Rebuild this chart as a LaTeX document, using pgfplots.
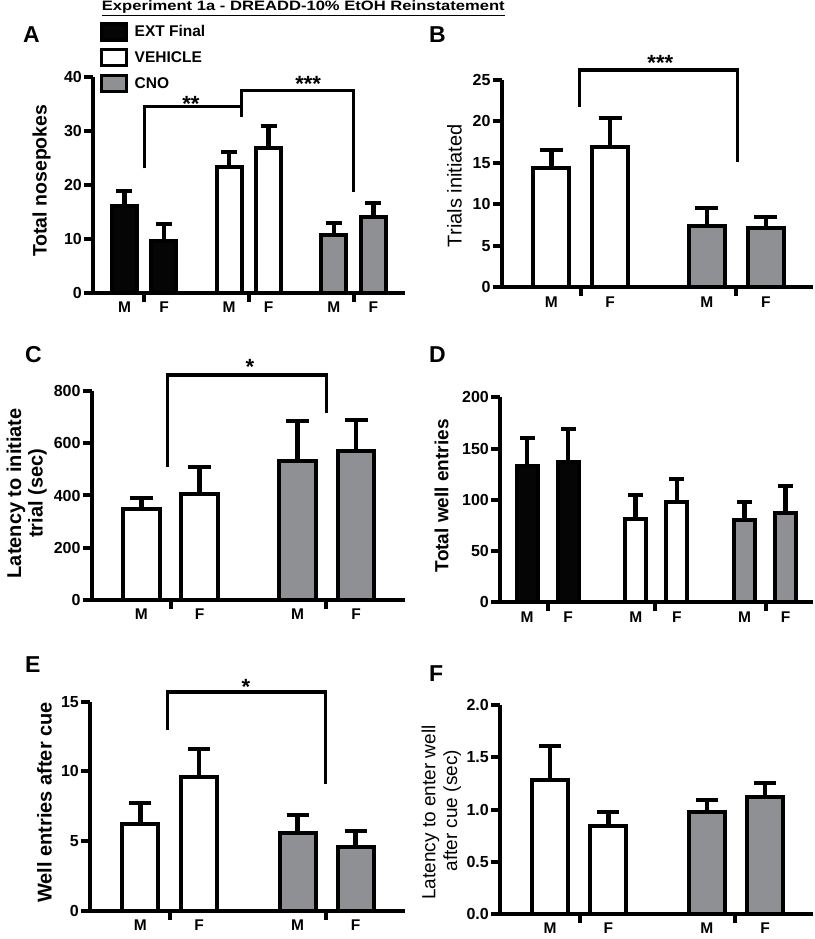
\documentclass[border=0pt]{standalone}
\usepackage{pgfplots}
\pgfplotsset{compat=1.18}
\usepackage{fontspec}
\setmainfont{Liberation Sans}
\newfontfamily\titlefont{Liberation Sans}[FakeStretch=1.22]
\definecolor{cno}{RGB}{143,144,148}
\definecolor{ext}{RGB}{5,5,5}
\newcommand{\tickfont}{\bfseries\fontsize{16}{16}\selectfont}
\newcommand{\starfont}{\bfseries\fontsize{22}{22}\selectfont}
\pgfplotsset{
  panel/.style={
    scale only axis,
    axis x line*=bottom, axis y line*=left,
    axis line style={line width=4pt, black},
    tick align=outside,
    major tick length=9pt,
    ytick style={line width=4pt, black},
    xtick style={draw=none},
    ymin=0,
    clip=false,
    /pgf/number format/assume math mode=true,
    tick label style={font=\tickfont},
    yticklabel style={inner sep=0pt, xshift=-2pt},
    xticklabel style={inner sep=0pt, font=\bfseries\fontsize{15.5}{15.5}\selectfont},
    extra x tick style={xtick style={draw=black, line width=4pt}},
    extra x tick labels={},
  },
  bk/.style={black, line width=3.4pt, line join=miter, forget plot},
  every error bar/.append style={line width=4.6pt, black},
}
\begin{document}
\begin{tikzpicture}
\path[use as bounding box] (0,0) rectangle (814pt,939pt);

% title
\node[anchor=base west, font=\titlefont\bfseries\fontsize{13.6}{13.6}\selectfont, inner sep=0pt] at (101.7pt,928.5pt) {\underline{Experiment 1a - DREADD-10\% EtOH Reinstatement}};

% panel letters
\begin{scope}[every node/.style={anchor=base west, inner sep=0pt, font=\bfseries\fontsize{23}{23}\selectfont}]
\node at (23pt,896pt) {A};
\node at (429pt,896pt) {B};
\node at (25pt,576.3pt) {C};
\node at (429pt,576.3pt) {D};
\node at (25pt,266.3pt) {E};
\node at (429pt,257.3pt) {F};
\end{scope}

% y labels
\node[rotate=90, anchor=base, inner sep=0pt, font=\bfseries\fontsize{19.5}{19.5}\selectfont] at (46.7pt,758.2pt) {Total nosepokes};
\node[rotate=90, anchor=base, inner sep=0pt, font=\fontsize{20}{20}\selectfont] at (461.7pt,753.2pt) {Trials initiated};
\node[rotate=90, anchor=base, inner sep=0pt, font=\bfseries\fontsize{20}{20}\selectfont] at (21pt,445.7pt) {Latency to initiate};
\node[rotate=90, anchor=base, inner sep=0pt, font=\bfseries\fontsize{20}{20}\selectfont] at (42.5pt,445.7pt) {trial (sec)};
\node[rotate=90, anchor=base, inner sep=0pt, font=\bfseries\fontsize{19}{19}\selectfont] at (448.3pt,443.2pt) {Total well entries};
\node[rotate=90, anchor=base, inner sep=0pt, font=\bfseries\fontsize{20}{20}\selectfont] at (51.7pt,136.5pt) {Well entries after cue};
\node[rotate=90, anchor=base, inner sep=0pt, font=\fontsize{19}{19}\selectfont] at (435.3pt,126.5pt) {Latency to enter well};
\node[rotate=90, anchor=base, inner sep=0pt, font=\fontsize{19}{19}\selectfont] at (457.2pt,128.2pt) {after cue (sec)};

% ---------------- A
\begin{axis}[panel, at={(93pt,646pt)}, anchor=south west, width=312pt, height=215.7pt,
  xmin=-0.797, xmax=7.10, ymax=40, ytick={0,10,20,30,40},
  xtick={0,1,2.65,3.65,5.3,6.3}, xticklabels={M,F,M,F,M,F}, extra x ticks={0.5,3.15,5.8},
  legend style={at={(axis description cs:0.022,1.255)}, anchor=north west, draw=none, fill=none,
    font=\bfseries\fontsize{15.5}{15.5}\selectfont, row sep=6.5pt, inner sep=0pt,
    nodes={inner sep=1pt}},
  legend cell align=left,
  legend image code/.code={\draw[line width=3.2pt] (0pt,-8pt) rectangle (24.5pt,8pt); \path[draw=none, fill=none] (0pt,0pt) -- (32pt,0pt);}]
\addplot[ybar, bar shift=0pt, bar width=25pt, fill=ext, draw=black, line width=4pt,
  error bars/.cd, y dir=plus, y explicit, error bar style={line width=4.6pt, black},
  error mark options={rotate=90, line width=4pt, black, mark size=8pt}]
  coordinates {(0,16.2) +- (0,2.8) (1,9.6) +- (0,3.2)};
\addlegendentry{EXT Final}
\addplot[ybar, bar shift=0pt, bar width=25pt, fill=white, draw=black, line width=4pt,
  error bars/.cd, y dir=plus, y explicit, error bar style={line width=4.6pt, black},
  error mark options={rotate=90, line width=4pt, black, mark size=8pt}]
  coordinates {(2.65,23.4) +- (0,2.8) (3.65,26.9) +- (0,4.1)};
\addlegendentry{VEHICLE}
\addplot[ybar, bar shift=0pt, bar width=25pt, fill=cno, draw=black, line width=4pt,
  error bars/.cd, y dir=plus, y explicit, error bar style={line width=4.6pt, black},
  error mark options={rotate=90, line width=4pt, black, mark size=8pt}]
  coordinates {(5.3,10.7) +- (0,2.3) (6.3,14.0) +- (0,2.7)};
\addlegendentry{CNO}
\addplot[bk] coordinates {(0.5,23.1) (0.5,34.6) (2.96,34.6)};
\addplot[bk] coordinates {(2.96,32.6) (2.96,37.5) (5.79,37.5) (5.79,18.8)};
\node[anchor=base, inner sep=0pt, font=\starfont, yshift=-12pt] at (axis cs:1.68,35.9) {**};
\node[anchor=base, inner sep=0pt, font=\starfont, yshift=-12pt] at (axis cs:4.65,39.5) {***};
\end{axis}

% ---------------- B
\begin{axis}[panel, at={(501.7pt,651.7pt)}, anchor=south west, width=311.3pt, height=207.3pt,
  xmin=-0.84, xmax=4.44, ymax=25, ytick={0,5,10,15,20,25},
  xtick={0,1,2.64,3.64}, xticklabels={M,F,M,F}, extra x ticks={0.5,3.14}]
\addplot[ybar, bar shift=0pt, bar width=36pt, fill=white, draw=black, line width=4pt,
  error bars/.cd, y dir=plus, y explicit, error bar style={line width=4.6pt, black},
  error mark options={rotate=90, line width=4pt, black, mark size=11.5pt}]
  coordinates {(0,14.35) +- (0,2.25) (1,16.9) +- (0,3.5)};
\addplot[ybar, bar shift=0pt, bar width=36pt, fill=cno, draw=black, line width=4pt,
  error bars/.cd, y dir=plus, y explicit, error bar style={line width=4.6pt, black},
  error mark options={rotate=90, line width=4pt, black, mark size=11.5pt}]
  coordinates {(2.64,7.4) +- (0,2.2) (3.64,7.2) +- (0,1.3)};
\addplot[bk] coordinates {(0.48,21.7) (0.48,26.2) (3.16,26.2) (3.16,15.1)};
\node[anchor=base, inner sep=0pt, font=\starfont, yshift=-12pt] at (axis cs:1.85,27.6) {***};
\end{axis}

% ---------------- C
\begin{axis}[panel, at={(91.7pt,339pt)}, anchor=south west, width=313.3pt, height=209pt,
  xmin=-0.85, xmax=4.52, ymax=800, ytick={0,200,400,600,800},
  xtick={0,1,2.68,3.68}, xticklabels={M,F,M,F}, extra x ticks={0.51,3.17}]
\addplot[ybar, bar shift=0pt, bar width=36.5pt, fill=white, draw=black, line width=4pt,
  error bars/.cd, y dir=plus, y explicit, error bar style={line width=4.6pt, black},
  error mark options={rotate=90, line width=4pt, black, mark size=11.5pt}]
  coordinates {(0,347) +- (0,42) (1,406) +- (0,102)};
\addplot[ybar, bar shift=0pt, bar width=36.5pt, fill=cno, draw=black, line width=4pt,
  error bars/.cd, y dir=plus, y explicit, error bar style={line width=4.6pt, black},
  error mark options={rotate=90, line width=4pt, black, mark size=11.5pt}]
  coordinates {(2.68,532) +- (0,153) (3.68,572) +- (0,117)};
\addplot[bk] coordinates {(0.45,508) (0.45,861) (3.17,861) (3.17,714)};
\node[anchor=base, inner sep=0pt, font=\starfont, yshift=-12pt] at (axis cs:1.86,908) {*};
\end{axis}

% ---------------- D
\begin{axis}[panel, at={(500pt,336.7pt)}, anchor=south west, width=313pt, height=205pt,
  xmin=-0.66, xmax=6.97, ymax=200, ytick={0,50,100,150,200},
  xtick={0,1,2.65,3.65,5.3,6.3}, xticklabels={M,F,M,F,M,F}, extra x ticks={0.5,3.13,5.82}]
\addplot[ybar, bar shift=0pt, bar width=21pt, fill=ext, draw=black, line width=4pt,
  error bars/.cd, y dir=plus, y explicit, error bar style={line width=4.6pt, black},
  error mark options={rotate=90, line width=4pt, black, mark size=7.5pt}]
  coordinates {(0,133.3) +- (0,26.7) (1,136.6) +- (0,32.8)};
\addplot[ybar, bar shift=0pt, bar width=21pt, fill=white, draw=black, line width=4pt,
  error bars/.cd, y dir=plus, y explicit, error bar style={line width=4.6pt, black},
  error mark options={rotate=90, line width=4pt, black, mark size=7.5pt}]
  coordinates {(2.65,81.3) +- (0,23.7) (3.65,98.2) +- (0,21.8)};
\addplot[ybar, bar shift=0pt, bar width=21pt, fill=cno, draw=black, line width=4pt,
  error bars/.cd, y dir=plus, y explicit, error bar style={line width=4.6pt, black},
  error mark options={rotate=90, line width=4pt, black, mark size=7.5pt}]
  coordinates {(5.3,80) +- (0,18.2) (6.3,87.2) +- (0,26.6)};
\end{axis}

% ---------------- E
\begin{axis}[panel, at={(90pt,28pt)}, anchor=south west, width=315pt, height=209.3pt,
  xmin=-0.857, xmax=4.51, ymax=15, ytick={0,5,10,15},
  xtick={0,1,2.68,3.67}, xticklabels={M,F,M,F}, extra x ticks={0.5,3.17}]
\addplot[ybar, bar shift=0pt, bar width=36pt, fill=white, draw=black, line width=4pt,
  error bars/.cd, y dir=plus, y explicit, error bar style={line width=4.6pt, black},
  error mark options={rotate=90, line width=4pt, black, mark size=11pt}]
  coordinates {(0,6.23) +- (0,1.48) (1,9.63) +- (0,1.98)};
\addplot[ybar, bar shift=0pt, bar width=36pt, fill=cno, draw=black, line width=4pt,
  error bars/.cd, y dir=plus, y explicit, error bar style={line width=4.6pt, black},
  error mark options={rotate=90, line width=4pt, black, mark size=11pt}]
  coordinates {(2.68,5.61) +- (0,1.27) (3.67,4.61) +- (0,1.15)};
\addplot[bk] coordinates {(0.46,12.97) (0.46,15.7) (3.16,15.7) (3.16,9.1)};
\node[anchor=base, inner sep=0pt, font=\starfont, yshift=-12pt] at (axis cs:1.80,16.4) {*};
\end{axis}

% ---------------- F
\begin{axis}[panel, at={(500pt,25pt)}, anchor=south west, width=313pt, height=208.7pt,
  xmin=-0.858, xmax=4.51, ymax=2, ytick={0,0.5,1,1.5,2},
  yticklabel style={/pgf/number format/.cd, fixed, fixed zerofill, precision=1},
  xtick={0,1,2.69,3.69}, xticklabels={M,F,M,F}, extra x ticks={0.51,3.17}]
\addplot[ybar, bar shift=0pt, bar width=36pt, fill=white, draw=black, line width=4pt,
  error bars/.cd, y dir=plus, y explicit, error bar style={line width=4.6pt, black},
  error mark options={rotate=90, line width=4pt, black, mark size=11pt}]
  coordinates {(0,1.281) +- (0,0.33) (1,0.847) +- (0,0.127)};
\addplot[ybar, bar shift=0pt, bar width=36pt, fill=cno, draw=black, line width=4pt,
  error bars/.cd, y dir=plus, y explicit, error bar style={line width=4.6pt, black},
  error mark options={rotate=90, line width=4pt, black, mark size=11pt}]
  coordinates {(2.69,0.974) +- (0,0.119) (3.69,1.118) +- (0,0.134)};
\end{axis}
\end{tikzpicture}
\end{document}
